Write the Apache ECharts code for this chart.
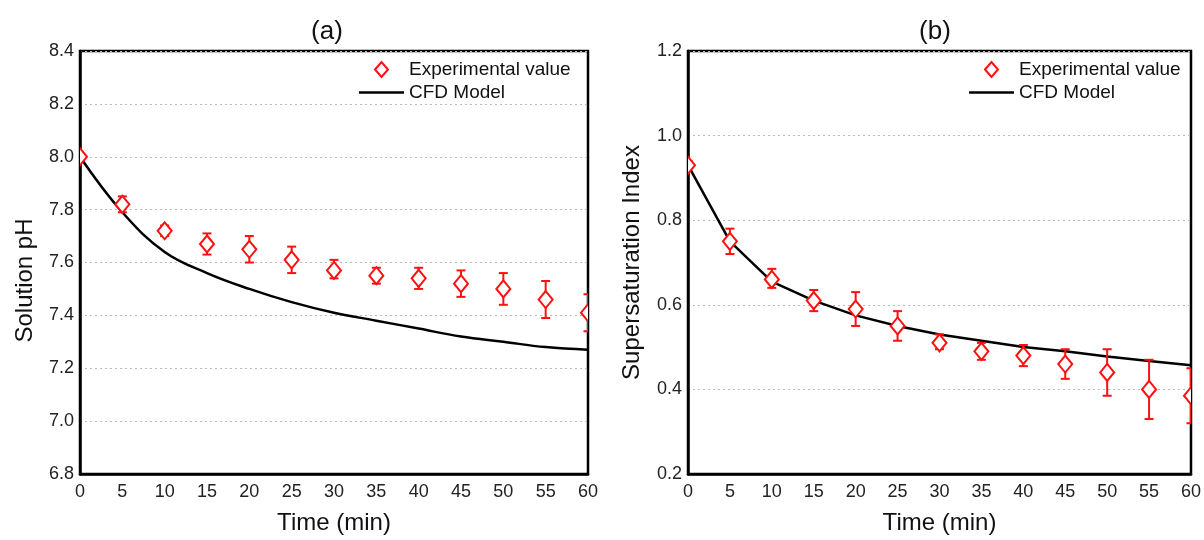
<!DOCTYPE html>
<html>
<head>
<meta charset="utf-8">
<script src="https://cdn.jsdelivr.net/npm/echarts@6/dist/echarts.min.js"></script>
<style>
  html, body { margin: 0; padding: 0; background: #fff; }
  #chart { width: 1204px; height: 540px; }
</style>
</head>
<body>
<div id="chart"></div>
<script>
// time points (min)
var times = [0, 5, 10, 15, 20, 25, 30, 35, 40, 45, 50, 55, 60];

// (a) solution pH
var phExp = [8.00, 7.82, 7.72, 7.67, 7.65, 7.61, 7.57, 7.55, 7.54, 7.52, 7.50, 7.46, 7.41];
var phLow = [7.99, 7.79, 7.70, 7.63, 7.60, 7.56, 7.54, 7.52, 7.50, 7.47, 7.44, 7.39, 7.34];
var phHigh = [8.01, 7.85, 7.74, 7.71, 7.70, 7.66, 7.61, 7.58, 7.58, 7.57, 7.56, 7.53, 7.48];
var phCfd = [8.00, 7.79, 7.64, 7.56, 7.50, 7.45, 7.41, 7.38, 7.35, 7.32, 7.30, 7.28, 7.27];

// (b) supersaturation index
var siExp = [0.93, 0.75, 0.66, 0.61, 0.59, 0.55, 0.51, 0.49, 0.48, 0.46, 0.44, 0.40, 0.385];
var siLow = [0.92, 0.72, 0.64, 0.585, 0.55, 0.515, 0.495, 0.47, 0.455, 0.425, 0.385, 0.33, 0.32];
var siHigh = [0.94, 0.78, 0.685, 0.635, 0.63, 0.585, 0.53, 0.51, 0.505, 0.495, 0.495, 0.47, 0.45];
var siCfd = [0.93, 0.75, 0.655, 0.61, 0.575, 0.55, 0.53, 0.515, 0.50, 0.49, 0.478, 0.467, 0.457];

var FONT = 'Liberation Sans';
var RED = '#ff1010';

function pairs(xs, ys) {
    return xs.map(function (x, i) { return [x, ys[i]]; });
}
function expData(xs, ys, lo, hi) {
    return xs.map(function (x, i) { return [x, ys[i], lo[i], hi[i]]; });
}

// error bar with caps plus hollow diamond, placed through the axis scales
function expRender(params, api) {
    var x = api.value(0);
    var c = api.coord([x, api.value(1)]);
    var lo = api.coord([x, api.value(2)]);
    var hi = api.coord([x, api.value(3)]);
    var cap = 4.5, hw = 7, hh = 8.5;
    var style = { stroke: RED, lineWidth: 2 };
    return {
        type: 'group',
        children: [
            { type: 'line', shape: { x1: hi[0], y1: hi[1], x2: lo[0], y2: lo[1] }, style: style },
            { type: 'line', shape: { x1: hi[0] - cap, y1: hi[1], x2: hi[0] + cap, y2: hi[1] }, style: style },
            { type: 'line', shape: { x1: lo[0] - cap, y1: lo[1], x2: lo[0] + cap, y2: lo[1] }, style: style },
            {
                type: 'polygon',
                shape: { points: [[c[0], c[1] - hh], [c[0] + hw, c[1]], [c[0], c[1] + hh], [c[0] - hw, c[1]]] },
                style: { fill: '#fff', stroke: RED, lineWidth: 2 }
            }
        ]
    };
}

function xAxisFor(idx) {
    return {
        gridIndex: idx,
        type: 'value',
        min: 0, max: 60, interval: 5,
        name: 'Time (min)',
        nameLocation: 'middle',
        nameGap: 37,
        nameTextStyle: { fontFamily: FONT, fontSize: 24, color: '#111' },
        axisLine: { show: true, lineStyle: { color: '#000', width: 2.5 } },
        axisTick: { show: false },
        axisLabel: { fontFamily: FONT, fontSize: 18, color: '#222', margin: 9 },
        splitLine: { show: false }
    };
}

function yAxisFor(idx, min, max, name, gap, pad) {
    return {
        gridIndex: idx,
        type: 'value',
        min: min, max: max, interval: 0.2,
        name: name,
        nameLocation: 'middle',
        nameGap: gap,
        nameTextStyle: { fontFamily: FONT, fontSize: 24, color: '#111', padding: pad },
        axisLine: { show: true, lineStyle: { color: '#000', width: 2.5 } },
        axisTick: { show: false },
        axisLabel: {
            fontFamily: FONT, fontSize: 18, color: '#222', margin: 6,
            formatter: function (v) { return v.toFixed(1); }
        },
        splitLine: { show: true, lineStyle: { color: '#bbb', type: [2, 3], width: 1 } }
    };
}

function legendFor(left) {
    return {
        left: left,
        top: 55,
        orient: 'vertical',
        itemWidth: 45,
        itemHeight: 15,
        itemGap: 4,
        textStyle: { fontFamily: FONT, fontSize: 19, color: '#111' },
        data: [
            {
                name: 'Experimental value',
                icon: 'path://M0,7.5 M16,7.5 L22.5,0 L29,7.5 L22.5,15 Z M45,7.5',
                itemStyle: { color: '#fff', borderColor: RED, borderWidth: 2 }
            },
            {
                name: 'CFD Model',
                icon: 'path://M0,0 M0,6.25 L45,6.25 L45,8.75 L0,8.75 Z M45,15',
                itemStyle: { color: '#000', borderWidth: 0 }
            }
        ],
        selectedMode: false
    };
}

var chart = echarts.init(document.getElementById('chart'), null, { renderer: 'canvas' });

var option = {
    backgroundColor: '#fff',
    animation: false,
    title: [
        { text: '(a)', left: 322, top: 14, textAlign: 'center', textStyle: { fontFamily: FONT, fontSize: 26, fontWeight: 'normal', color: '#111' } },
        { text: '(b)', left: 930, top: 14, textAlign: 'center', textStyle: { fontFamily: FONT, fontSize: 26, fontWeight: 'normal', color: '#111' } }
    ],
    legend: [legendFor(353), legendFor(963)],
    grid: [
        { left: 80, top: 51, width: 508, bottom: 65, show: true, borderColor: '#000', borderWidth: 2.5, backgroundColor: 'transparent' },
        { left: 688, top: 51, width: 508, bottom: 65, show: true, borderColor: '#000', borderWidth: 2.5, backgroundColor: 'transparent' }
    ],
    xAxis: [xAxisFor(0), xAxisFor(1)],
    yAxis: [
        yAxisFor(0, 6.8, 8.4, 'Solution pH', 43, [0, 36, 0, 0]),
        yAxisFor(1, 0.2, 1.2, 'Supersaturation Index', 44, 0)
    ],
    series: [
        {
            name: 'CFD Model', type: 'line', xAxisIndex: 0, yAxisIndex: 0,
            data: pairs(times, phCfd), smooth: 0.4, symbol: 'none',
            lineStyle: { color: '#000', width: 2.5 }, itemStyle: { color: '#000' }, z: 3
        },
        {
            name: 'Experimental value', type: 'custom', xAxisIndex: 0, yAxisIndex: 0,
            data: expData(times, phExp, phLow, phHigh), renderItem: expRender,
            itemStyle: { color: RED }, clip: true, z: 4
        },
        {
            name: 'CFD Model', type: 'line', xAxisIndex: 1, yAxisIndex: 1,
            data: pairs(times, siCfd), smooth: false, symbol: 'none',
            lineStyle: { color: '#000', width: 2.5 }, itemStyle: { color: '#000' }, z: 3
        },
        {
            name: 'Experimental value', type: 'custom', xAxisIndex: 1, yAxisIndex: 1,
            data: expData(times, siExp, siLow, siHigh), renderItem: expRender,
            itemStyle: { color: RED }, clip: true, z: 4
        }
    ]
};

chart.setOption(option);
</script>
</body>
</html>
